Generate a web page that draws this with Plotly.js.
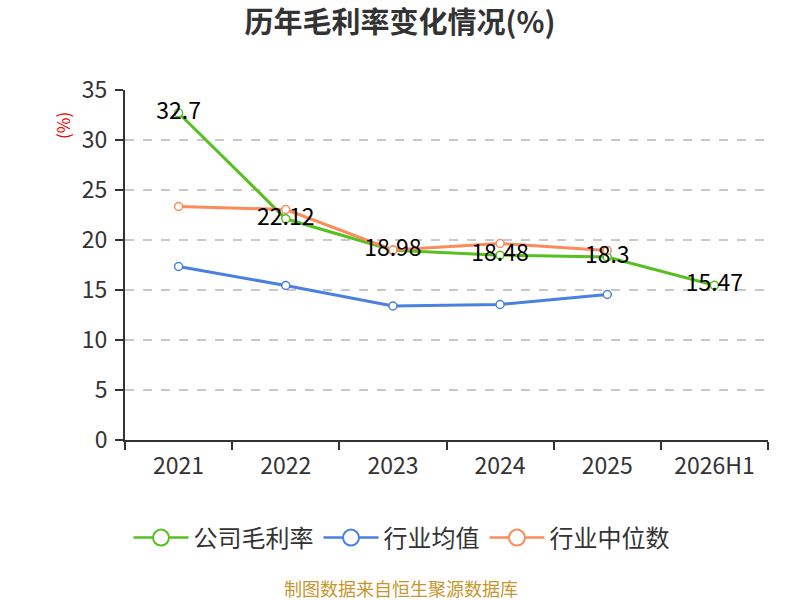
<!DOCTYPE html>
<html>
<head>
<meta charset="utf-8">
<script src="https://cdn.plot.ly/plotly-3.0.1.min.js"></script>
<style>
  html, body { margin: 0; padding: 0; background: #fff; }
  #chart { width: 800px; height: 600px; }
</style>
</head>
<body>
<div id="chart"></div>
<script>
// 历年毛利率变化情况
const years = ['2021', '2022', '2023', '2024', '2025', '2026H1'];
const companyRate = [32.7, 22.12, 18.98, 18.48, 18.3, 15.47];
const industryAvg = [17.35, 15.45, 13.4, 13.55, 14.55];
const industryMedian = [23.35, 23.05, 19.0, 19.65, 18.95];

const seriesNames = ['公司毛利率', '行业均值', '行业中位数'];

const FONT = '"Noto Sans CJK SC", "Microsoft YaHei", sans-serif';
const GREEN = '#55c01f';
const BLUE = '#4a80e0';
const ORANGE = '#fb8b5b';

function lineTrace(name, y, color) {
    return {
        type: 'scatter',
        mode: 'lines+markers',
        name: name,
        x: years.slice(0, y.length),
        y: y,
        line: { color: color, width: 3 },
        marker: { symbol: 'circle', size: 8, color: '#fff', line: { color: color, width: 1.5 } },
        showlegend: false,
        hoverinfo: 'x+y',
    };
}

// voci di legenda con simbolo più grande (nessun dato)
function legendTrace(name, color) {
    return {
        type: 'scatter',
        mode: 'lines+markers',
        name: name,
        x: [null],
        y: [null],
        line: { color: color, width: 2.5 },
        marker: { symbol: 'circle', size: 16, color: '#fff', line: { color: color, width: 2 } },
        hoverinfo: 'skip',
    };
}

const data = [
    lineTrace(seriesNames[0], companyRate, GREEN),
    lineTrace(seriesNames[1], industryAvg, BLUE),
    lineTrace(seriesNames[2], industryMedian, ORANGE),
    {
        type: 'scatter',
        mode: 'text',
        x: years,
        y: companyRate,
        text: companyRate.map(String),
        textposition: 'middle center',
        textfont: { family: FONT, size: 23, color: '#000' },
        showlegend: false,
        hoverinfo: 'skip',
    },
    legendTrace(seriesNames[0], GREEN),
    legendTrace(seriesNames[1], BLUE),
    legendTrace(seriesNames[2], ORANGE),
];

const layout = {
    width: 800,
    height: 600,
    margin: { l: 125, r: 32, t: 90, b: 160 },
    paper_bgcolor: '#fff',
    plot_bgcolor: '#fff',
    font: { family: FONT, color: '#333' },
    title: {
        text: '<b>历年毛利率变化情况(%)</b>',
        font: { family: FONT, size: 29, color: '#333' },
        x: 0.5, xanchor: 'center',
        y: 0.962, yanchor: 'middle',
    },
    xaxis: {
        type: 'category',
        tickson: 'boundaries',
        ticks: 'outside',
        ticklen: 8,
        tickwidth: 2,
        tickcolor: '#333',
        ticklabelstandoff: 4,
        showline: true,
        linecolor: '#333',
        linewidth: 2,
        showgrid: false,
        tickfont: { family: FONT, size: 23, color: '#333' },
        range: [-0.5, 5.5],
    },
    yaxis: {
        range: [0, 35],
        dtick: 5,
        ticks: 'outside',
        ticklen: 8,
        tickwidth: 2,
        tickcolor: '#333',
        ticklabelstandoff: 3,
        showline: true,
        linecolor: '#333',
        linewidth: 2,
        gridcolor: '#c8c8c8',
        griddash: 'dash',
        gridwidth: 1.5,
        zeroline: false,
        tickfont: { family: FONT, size: 23, color: '#333' },
    },
    legend: {
        orientation: 'h',
        x: 0.43, xanchor: 'center',
        y: -0.28, yanchor: 'middle',
        font: { family: FONT, size: 24, color: '#333' },
        itemwidth: 55,
        tracegroupgap: 0,
    },
    annotations: [
        {
            text: '(%)',
            textangle: -90,
            xref: 'paper', yref: 'paper',
            x: -0.098, y: 0.9,
            xanchor: 'center', yanchor: 'middle',
            showarrow: false,
            font: { family: FONT, size: 17, color: '#e00' },
        },
        {
            text: '制图数据来自恒生聚源数据库',
            xref: 'paper', yref: 'paper',
            x: 0.43, y: -0.424,
            xanchor: 'center', yanchor: 'middle',
            showarrow: false,
            font: { family: FONT, size: 18, color: '#c8962e' },
        },
    ],
};

Plotly.newPlot('chart', data, layout, { displayModeBar: false, staticPlot: true });
</script>
</body>
</html>
